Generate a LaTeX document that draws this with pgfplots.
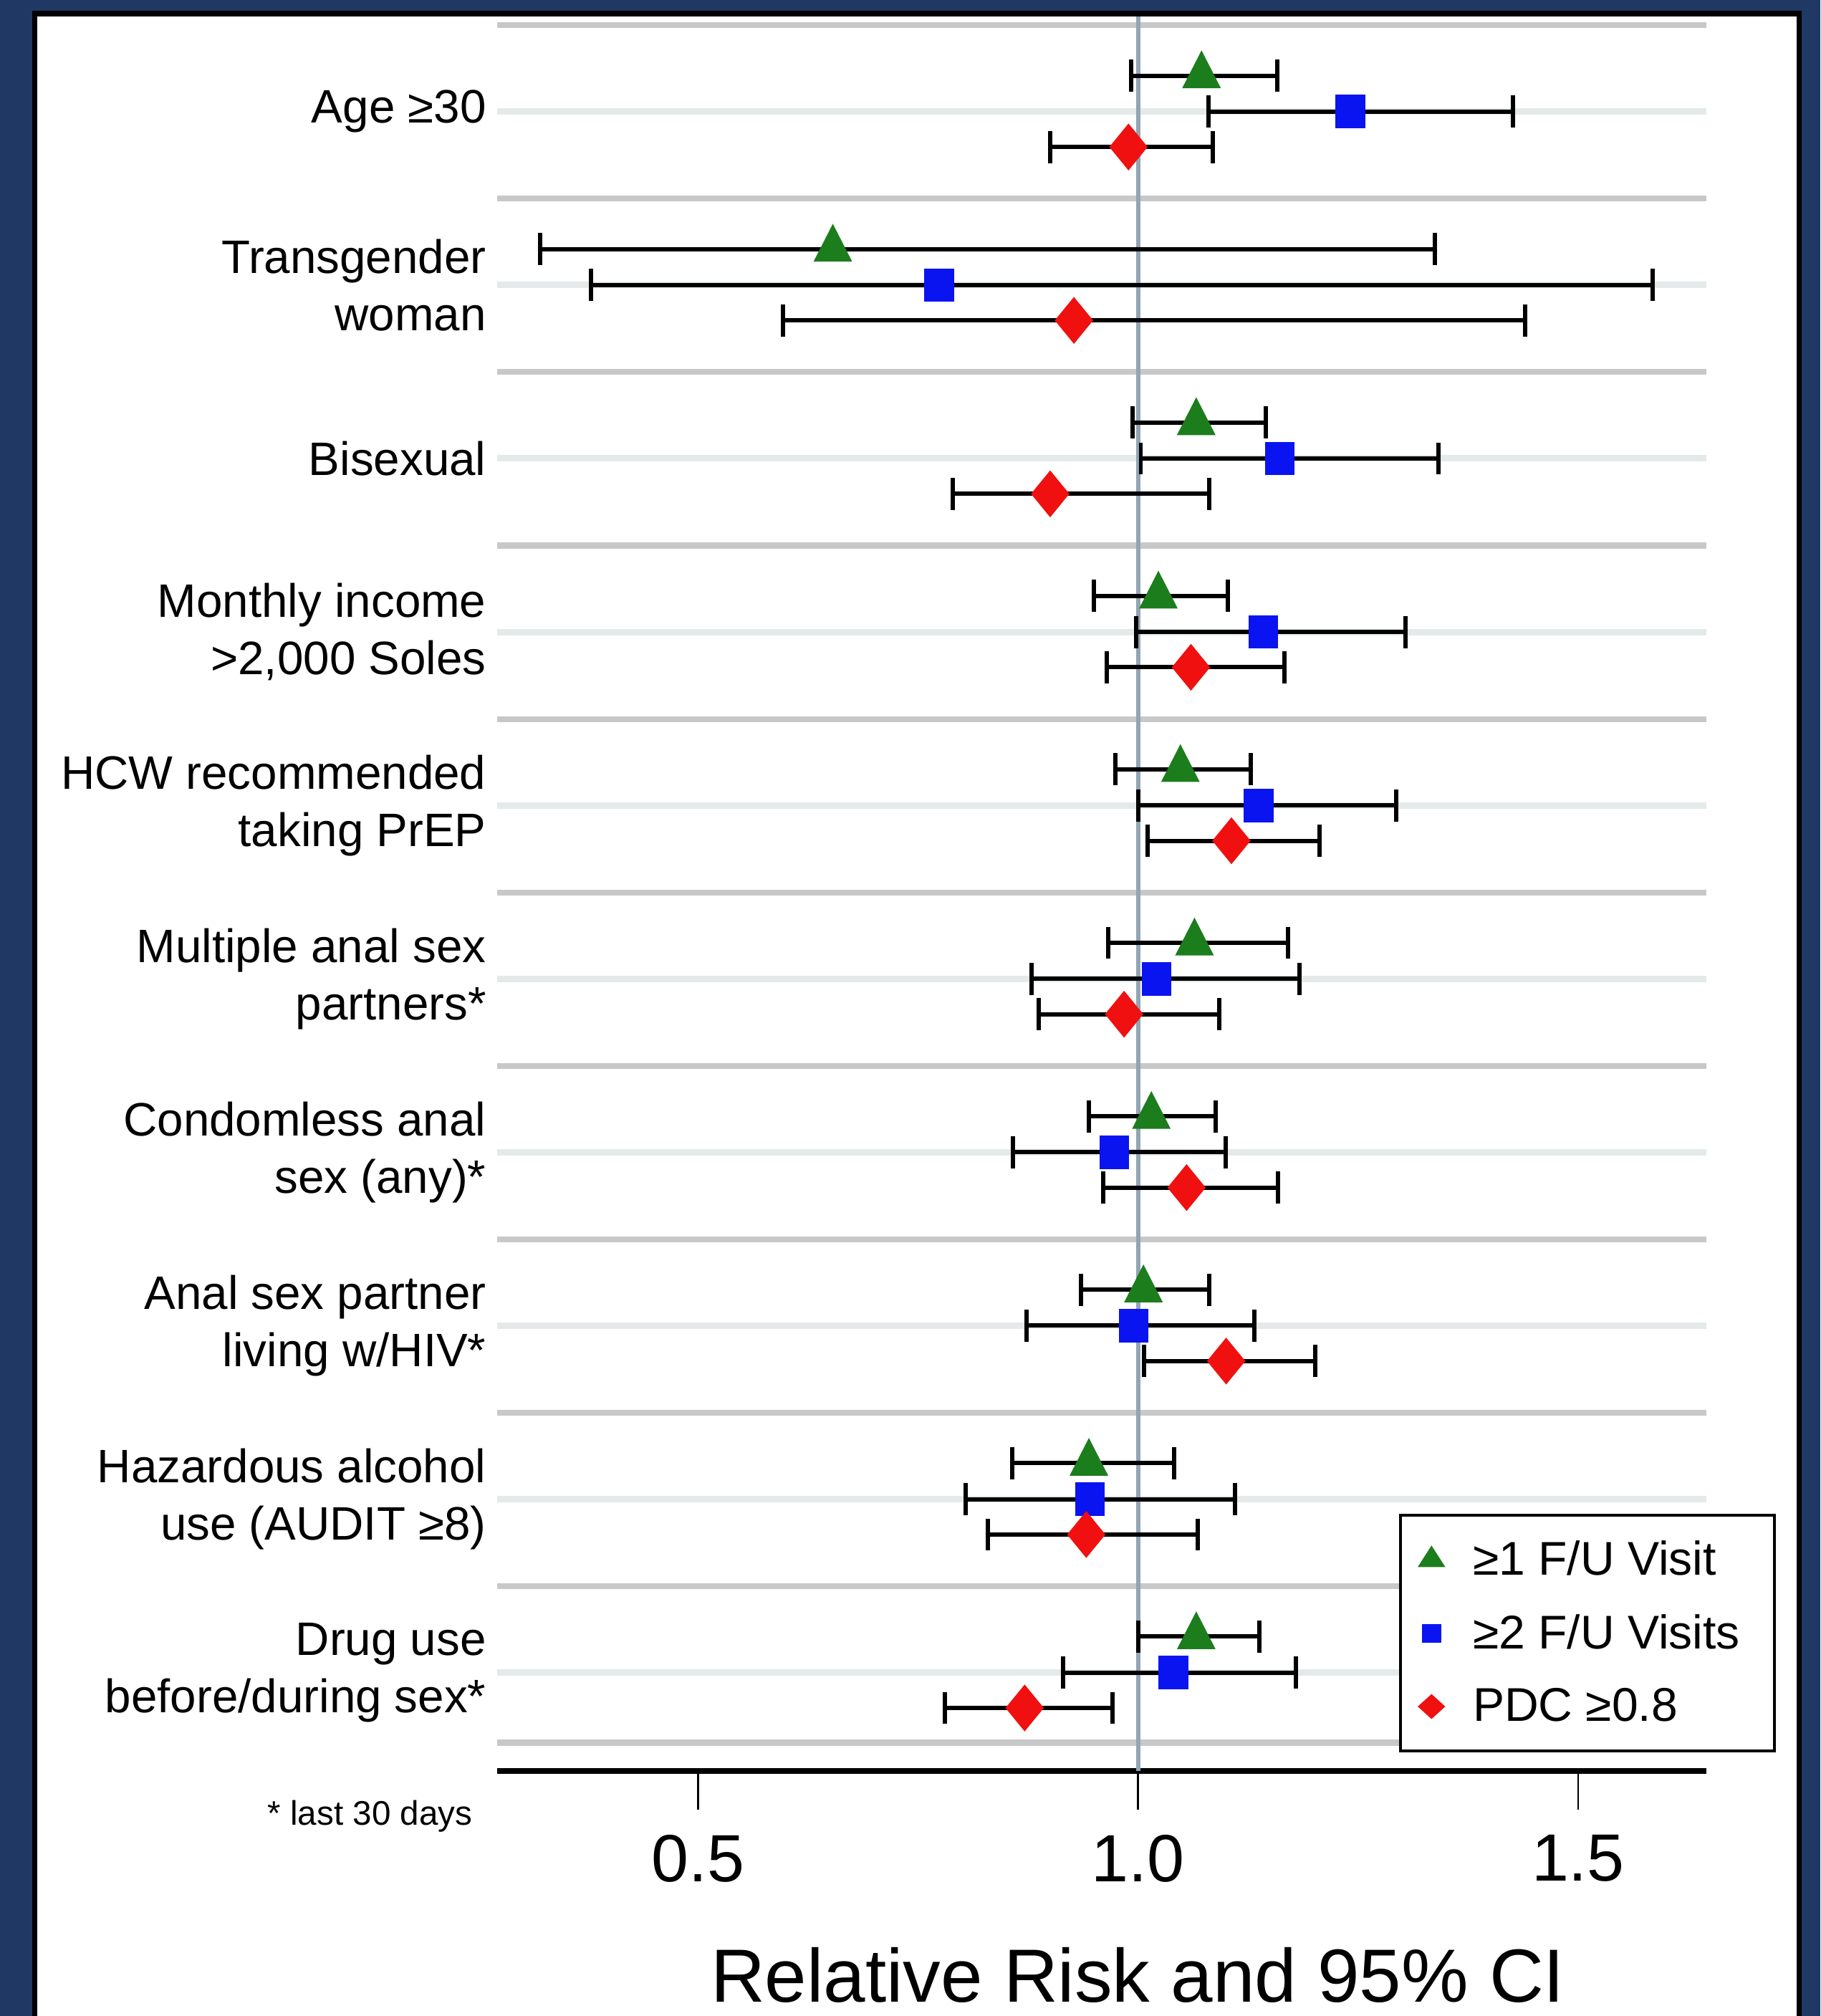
\documentclass[border=0pt]{standalone}
\usepackage{fontspec}
\setmainfont{Liberation Sans}
\usepackage{pgfplots}
\usepackage{pgfplotstable}
\pgfplotsset{compat=1.18}

\definecolor{navy}{RGB}{32,56,100}
\definecolor{mygreen}{RGB}{28,125,28}
\definecolor{myblue}{RGB}{10,20,240}
\definecolor{myred}{RGB}{240,16,16}
\definecolor{refline}{RGB}{145,165,178}
\definecolor{band}{RGB}{200,200,200}
\definecolor{faint}{RGB}{228,234,234}

% y = minus the row position (rows from top)
\pgfplotstableread{
y est lo hi
-58.8 1.072 0.992 1.158
-193.7 0.653 0.320 1.337
-328.6 1.066 0.9935 1.145
-463.5 1.023 0.950 1.102
-598.4 1.048 0.974 1.128
-733.3 1.064 0.966 1.170
-868.2 1.015 0.944 1.088
-1003.1 1.006 0.935 1.081
-1138.0 0.944 0.857 1.041
-1272.9 1.066 1.000 1.138
}\tgreen

\pgfplotstableread{
y est lo hi
-86.8 1.241 1.080 1.426
-221.7 0.774 0.378 1.585
-356.6 1.161 1.003 1.341
-491.5 1.142 0.998 1.304
-626.4 1.137 1.000 1.293
-761.3 1.021 0.879 1.183
-896.2 0.973 0.858 1.0995
-1031.1 0.995 0.873 1.132
-1166.0 0.945 0.804 1.110
-1300.9 1.040 0.915 1.179
}\tblue

\pgfplotstableread{
y est lo hi
-114.3 0.989 0.900 1.085
-249.2 0.927 0.596 1.440
-384.1 0.900 0.789 1.081
-519.0 1.060 0.964 1.166
-653.9 1.106 1.011 1.206
-788.8 0.984 0.887 1.092
-923.7 1.055 0.960 1.159
-1058.6 1.100 1.007 1.201
-1193.5 0.941 0.829 1.068
-1328.4 0.871 0.780 0.971
}\tred

\begin{document}
\begin{tikzpicture}
\fill[navy] (0pt,0pt) rectangle (708pt,-784pt);
\fill[white, draw=black, line width=2pt] (13.45pt,-5.3pt) rectangle (699.6pt,-800pt);
\begin{axis}[
  at={(193.25pt,-688.8pt)}, anchor=south west,
  scale only axis, width=470.5pt, height=682.4pt,
  xmin=0.2712, xmax=1.6461, ymin=-1377.6, ymax=-12.8,
  axis x line=bottom, axis y line=left,
  x axis line style={-, line width=2.3pt, black},
  y axis line style={draw=none},
  xtick={0.5,1.0,1.5}, xticklabels={0.5,1.0,1.5},
  tick align=outside, major tick length=15pt,
  xtick style={black, line width=0.75pt},
  ytick style={draw=none},
  ytick={-1300.9,-1166.0,-1031.1,-896.2,-761.3,-626.4,-491.5,-356.6,-221.7,-86.8},
  yticklabels={{Drug use\\before/during sex*},{Hazardous alcohol\\use (AUDIT ≥8)},{Anal sex partner\\living w/HIV*},{Condomless anal\\sex (any)*},{Multiple anal sex\\partners*},{HCW recommended\\taking PrEP},{Monthly income\\>2,000 Soles},{Bisexual},{Transgender\\woman},{Age ≥30}},
  xticklabel style={font=\fontsize{26}{30}\selectfont, inner sep=0pt, anchor=north, yshift=-9.5pt},
  yticklabel style={font=\fontsize{18.25}{22.3}\selectfont, align=right, anchor=east, inner sep=0pt, xshift=11pt},
  legend style={at={(axis cs:1.2962,-1177.2)}, anchor=north west, draw=black, line width=1.2pt, fill=white,
    font=\fontsize{18.4}{22}\selectfont, inner xsep=7pt, inner ysep=8pt, row sep=9.8pt, column sep=9pt,
    nodes={inner sep=2pt}},
  legend cell align=left,
  legend image code/.code={\draw[mark repeat=2,mark phase=2,#1] plot coordinates {(0pt,0pt)(8pt,0pt)(16pt,0pt)};},
]
\pgfplotsinvokeforeach{-19.6,-154.5,-289.4,-424.3,-559.2,-694.1,-829.0,-963.9,-1098.8,-1233.7,-1355.4}{
  \draw[band, line width=2.25pt] (axis cs:0.2712,#1) -- (axis cs:1.6461,#1);}
\pgfplotsinvokeforeach{-86.8,-221.7,-356.6,-491.5,-626.4,-761.3,-896.2,-1031.1,-1166.0,-1300.9}{
  \draw[faint, line width=2.5pt] (axis cs:0.2712,#1) -- (axis cs:1.6461,#1);}
\draw[refline, line width=1.7pt] (axis cs:1,-12.8) -- (axis cs:1,-1377.6);

\addplot[only marks, mark=triangle*, mark size=8.3pt, color=mygreen, mark options={yscale=1.13}, forget plot,
  error bars/.cd, x dir=both, x explicit, error mark=|, error bar style={black, line width=1.67pt},
  error mark options={black, line width=1.67pt, mark size=6.25pt}]
  table[x=est, y=y, x error plus expr=\thisrow{hi}-\thisrow{est}, x error minus expr=\thisrow{est}-\thisrow{lo}] {\tgreen};
\addplot[only marks, mark=square*, mark size=6.3pt, color=myblue, mark options={xscale=0.885}, forget plot,
  error bars/.cd, x dir=both, x explicit, error mark=|, error bar style={black, line width=1.67pt},
  error mark options={black, line width=1.67pt, mark size=6.25pt}]
  table[x=est, y=y, x error plus expr=\thisrow{hi}-\thisrow{est}, x error minus expr=\thisrow{est}-\thisrow{lo}] {\tblue};
\addplot[only marks, mark=diamond*, mark size=8.8pt, color=myred, mark options={xscale=1.09}, forget plot,
  error bars/.cd, x dir=both, x explicit, error mark=|, error bar style={black, line width=1.67pt},
  error mark options={black, line width=1.67pt, mark size=6.25pt}]
  table[x=est, y=y, x error plus expr=\thisrow{hi}-\thisrow{est}, x error minus expr=\thisrow{est}-\thisrow{lo}] {\tred};

\addlegendimage{only marks, mark=triangle*, mark size=5.9pt, color=mygreen, mark options={yscale=0.9, line width=0.3pt}}
\addlegendentry{≥1 F/U Visit}
\addlegendimage{only marks, mark=square*, mark size=3.55pt, color=myblue, mark options={line width=0.3pt}}
\addlegendentry{≥2 F/U Visits\hspace*{4.5pt}}
\addlegendimage{only marks, mark=diamond*, mark size=4.65pt, color=myred, mark options={xscale=1.47, line width=0.3pt}}
\addlegendentry{PDC ≥0.8}
\end{axis}
\node[anchor=base east, font=\fontsize{13.25}{16}\selectfont, inner sep=0pt] at (183.85pt,-709.75pt) {* last 30 days};
\node[anchor=base, font=\fontsize{29.3}{35}\selectfont, inner sep=0pt] at (442.5pt,-778.5pt) {Relative Risk and 95\% CI};
\pgfresetboundingbox
\useasboundingbox (0pt,0pt) rectangle (708pt,-784pt);
\end{tikzpicture}
\end{document}
